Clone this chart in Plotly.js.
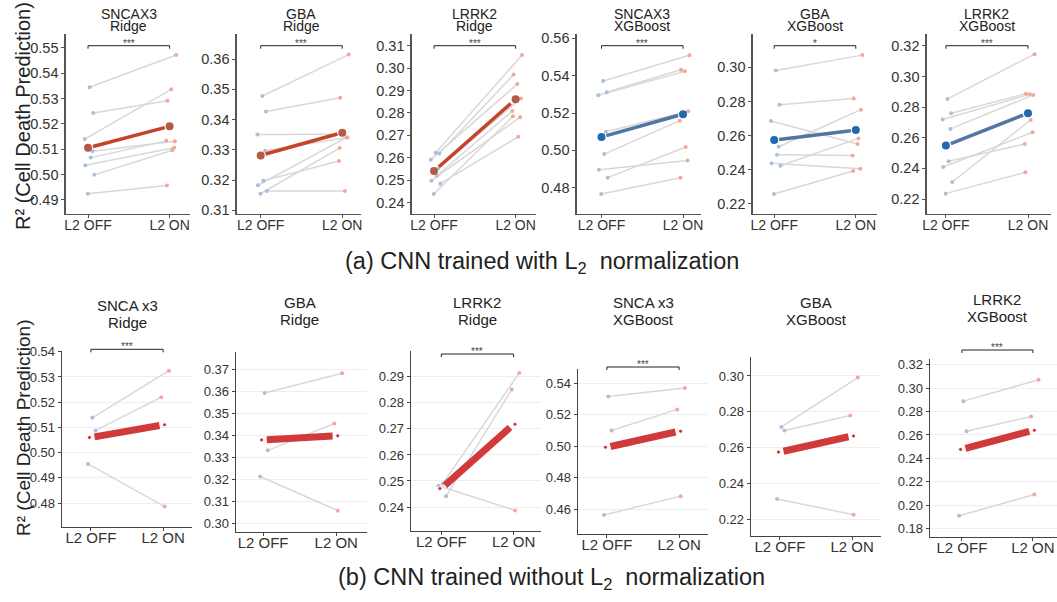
<!DOCTYPE html>
<html><head><meta charset="utf-8">
<script src="https://cdn.plot.ly/plotly-3.0.1.min.js"></script>
<style>html,body{margin:0;padding:0;background:#fff}#chart{width:1057px;height:602px}</style>
</head><body><div id="chart"></div>
<script>
// ---------------- DATA ----------------
const conditions = ["L2 OFF", "L2 ON"];

// (a) CNN trained with L2 normalization (paired runs, L2 OFF -> L2 ON)
const aSncaRidgeOff = [0.5344, 0.5243, 0.5140, 0.5092, 0.5067, 0.5037, 0.4999, 0.4925];
const aSncaRidgeOn  = [0.5471, 0.5291, 0.5336, 0.5131, 0.5133, 0.5106, 0.5096, 0.4957];
const aGbaRidgeOff  = [0.3478, 0.3427, 0.3351, 0.3297, 0.3198, 0.3183, 0.3164, 0.3155];
const aGbaRidgeOn   = [0.3615, 0.3472, 0.3352, 0.3341, 0.3263, 0.3341, 0.3164, 0.3306];
const aLrrkRidgeOff = [0.2623, 0.2619, 0.2592, 0.2553, 0.2520, 0.2498, 0.2485, 0.2439];
const aLrrkRidgeOn  = [0.3058, 0.2971, 0.2929, 0.2865, 0.2809, 0.2781, 0.2694, 0.2785];
const aSncaXgbOff   = [0.5371, 0.5311, 0.5295, 0.5100, 0.4980, 0.4896, 0.4854, 0.4766];
const aSncaXgbOn    = [0.5509, 0.5432, 0.5423, 0.5209, 0.5159, 0.4946, 0.5018, 0.4854];
const aGbaXgbOff    = [0.2982, 0.2781, 0.2685, 0.2534, 0.2487, 0.2437, 0.2423, 0.2257];
const aGbaXgbOn     = [0.3072, 0.2818, 0.2550, 0.2752, 0.2482, 0.2405, 0.2583, 0.2392];
const aLrrkXgbOff   = [0.2854, 0.2760, 0.2719, 0.2658, 0.2446, 0.2409, 0.2311, 0.2235];
const aLrrkXgbOn    = [0.3146, 0.2888, 0.2884, 0.2880, 0.2559, 0.2636, 0.2716, 0.2374];

// (b) CNN trained without L2 normalization
const bSncaRidgeOff = [0.5138, 0.5087, 0.4955];
const bSncaRidgeOn  = [0.5325, 0.5220, 0.4786];
const bGbaRidgeOff  = [0.3594, 0.3333, 0.3214];
const bGbaRidgeOn   = [0.3683, 0.3455, 0.3059];
const bLrrkRidgeOff = [0.2490, 0.2441, 0.2482];
const bLrrkRidgeOn  = [0.2915, 0.2851, 0.2387];
const bSncaXgbOff   = [0.5315, 0.5099, 0.4564];
const bSncaXgbOn    = [0.5368, 0.5233, 0.4683];
const bGbaXgbOff    = [0.2716, 0.2696, 0.2314];
const bGbaXgbOn     = [0.2991, 0.2779, 0.2226];
const bLrrkXgbOff   = [0.2889, 0.2631, 0.1909];
const bLrrkXgbOn    = [0.3071, 0.2757, 0.2091];

const titlesA = [["SNCAX3","Ridge"],["GBA","Ridge"],["LRRK2","Ridge"],["SNCAX3","XGBoost"],["GBA","XGBoost"],["LRRK2","XGBoost"]];
const titlesB = [["SNCA x3","Ridge"],["GBA","Ridge"],["LRRK2","Ridge"],["SNCA x3","XGBoost"],["GBA","XGBoost"],["LRRK2","XGBoost"]];
const sigA = ["***","***","***","***","*","***"];
const sigB = ["***","","***","***","","***"];
const rowLabelA = "(a) CNN trained with L<sub>2</sub>  normalization";
const rowLabelB = "(b) CNN trained without L<sub>2</sub>  normalization";
const yTitle = "R² (Cell Death Prediction)";

// ---------------- LAYOUT CONFIG (positions / styles) ----------------
const W = 1057, H = 602;
const fx = p => Math.min(1, p / W), fy = p => 1 - p / H;
const FONT = "Liberation Sans, Arial, Helvetica, sans-serif";

const panels = [
  {row:'a', off:aSncaRidgeOff, on:aSncaRidgeOn, model:'ridge', px:[66,190],  py:[34,213.7], xr:[-0.27,1.25], yr:[0.4846,0.5554], dt:0.01},
  {row:'a', off:aGbaRidgeOff,  on:aGbaRidgeOn,  model:'ridge', px:[237,361], py:[34,213.7], xr:[-0.29,1.23], yr:[0.3089,0.3683], dt:0.01},
  {row:'a', off:aLrrkRidgeOff, on:aLrrkRidgeOn, model:'ridge', px:[412,536], py:[34,213.7], xr:[-0.27,1.25], yr:[0.2351,0.3152], dt:0.01},
  {row:'a', off:aSncaXgbOff,   on:aSncaXgbOn,   model:'xgb',   px:[577,701], py:[34,213.7], xr:[-0.30,1.22], yr:[0.4661,0.5623], dt:0.02},
  {row:'a', off:aGbaXgbOff,    on:aGbaXgbOn,    model:'xgb',   px:[753,877], py:[34,213.7], xr:[-0.26,1.26], yr:[0.2141,0.3196], dt:0.02},
  {row:'a', off:aLrrkXgbOff,   on:aLrrkXgbOn,   model:'xgb',   px:[927,1051],py:[34,213.7], xr:[-0.23,1.28], yr:[0.2104,0.3278], dt:0.02},
  {row:'b', off:bSncaRidgeOff, on:bSncaRidgeOn, px:[62,192],   py:[351,527], xr:[-0.40,1.40], yr:[0.4705,0.5403], dt:0.01, ty:305, by:349.3},
  {row:'b', off:bGbaRidgeOff,  on:bGbaRidgeOn,  px:[236,367],  py:[352,532], xr:[-0.37,1.42], yr:[0.2962,0.3780], dt:0.01, ty:302},
  {row:'b', off:bLrrkRidgeOff, on:bLrrkRidgeOn, px:[411,541],  py:[351,531], xr:[-0.42,1.38], yr:[0.2308,0.2999], dt:0.01, ty:302, by:354},
  {row:'b', off:bSncaXgbOff,   on:bSncaXgbOn,   px:[578,708],  py:[369,534], xr:[-0.40,1.40], yr:[0.4443,0.5489], dt:0.02, ty:302, by:367},
  {row:'b', off:bGbaXgbOff,    on:bGbaXgbOn,    px:[751,881],  py:[357,536], xr:[-0.40,1.40], yr:[0.2107,0.3106], dt:0.02, ty:302},
  {row:'b', off:bLrrkXgbOff,   on:bLrrkXgbOn,   px:[930,1057], py:[359,537], xr:[-0.45,1.34], yr:[0.1728,0.3249], dt:0.02, ty:299, by:350},
];

const mean = a => a.reduce((s,v)=>s+v,0)/a.length;
const jit = (i, k) => 0.06 * Math.sin(i * 2.3 + k * 1.7) + 0.02;

const traces = [];
const layout = {
  width: W, height: H, margin:{l:0,r:0,t:0,b:0},
  paper_bgcolor:'#fff', plot_bgcolor:'#fff', showlegend:false,
  font:{family:FONT, color:'#333'},
  annotations:[], shapes:[]
};

panels.forEach((p, i) => {
  const k = i + 1, s = k === 1 ? '' : String(k);
  const xref = 'x' + s, yref = 'y' + s;
  const isA = p.row === 'a';
  const axColor = isA ? '#555' : '#444';
  layout['xaxis' + s] = {
    domain:[fx(p.px[0]), fx(p.px[1])], range:p.xr, anchor:yref,
    tickvals:[0,1], ticktext:conditions, showline:true, linecolor:axColor, linewidth:isA?1.6:1.4,
    ticks:'outside', ticklen:3, tickcolor:axColor, showgrid:false, zeroline:false, fixedrange:true,
    ticklabelstandoff: isA ? -5 : -6,
    tickfont:{family:FONT, size:isA?14:15, color:'#333'}
  };
  layout['yaxis' + s] = {
    domain:[fy(p.py[1]), fy(p.py[0])], range:p.yr, anchor:xref,
    tick0:0, dtick:p.dt, tickformat:'.2f', showline:true, linecolor:axColor, linewidth:isA?1.6:1.4,
    ticks:'outside', ticklen:3, tickcolor:axColor, zeroline:false, fixedrange:true,
    showgrid:!isA, gridcolor:'#eeeeee', gridwidth:1,
    tickfont:{family:FONT, size:isA?14.5:13, color:'#333'}
  };

  // paired lines
  const lx = [], ly = [], ox = [], onx = [];
  p.off.forEach((v, j) => {
    const x0 = jit(j, 0), x1 = 1 + jit(j, 1);
    ox.push(x0); onx.push(x1);
    lx.push(x0, x1, null); ly.push(v, p.on[j], null);
  });
  traces.push({type:'scatter', mode:'lines', x:lx, y:ly, xaxis:xref, yaxis:yref,
    line:{color:'#d8d8d8', width:1.5}, hoverinfo:'skip'});
  traces.push({type:'scatter', mode:'markers', x:ox, y:p.off, xaxis:xref, yaxis:yref,
    marker:{color:'#a9bfdc', size:4}, hoverinfo:'skip'});
  traces.push({type:'scatter', mode:'markers', x:onx, y:p.on, xaxis:xref, yaxis:yref,
    marker:{color:'#f0a998', size:4}, hoverinfo:'skip'});

  const m0 = mean(p.off), m1 = mean(p.on);
  if (isA) {
    const ridge = p.model === 'ridge';
    traces.push({type:'scatter', mode:'lines', x:[0.06,0.94], y:[m0 + (m1-m0)*0.06, m0 + (m1-m0)*0.94], xaxis:xref, yaxis:yref,
      line:{color: ridge ? '#c4432a' : '#4f77a2', width:3.5}, hoverinfo:'skip'});
    traces.push({type:'scatter', mode:'markers', x:[0,1], y:[m0,m1], xaxis:xref, yaxis:yref,
      marker:{color: ridge ? '#b65b42' : '#1f6aae', size:8, symbol:'circle'}, hoverinfo:'skip'});
  } else {
    traces.push({type:'scatter', mode:'lines', x:[0.05,0.95], y:[m0 + (m1-m0)*0.05, m0 + (m1-m0)*0.95], xaxis:xref, yaxis:yref,
      line:{color:'#d03a3a', width:7}, hoverinfo:'skip'});
    traces.push({type:'scatter', mode:'markers', x:[-0.02,1.02], y:[m0,m1], xaxis:xref, yaxis:yref,
      marker:{color:'#d62728', size:4, line:{color:'#fff', width:1}}, hoverinfo:'skip'});
  }

  // titles
  const t = isA ? titlesA[i] : titlesB[i - 6];
  const t1y = isA ? 13.5 : p.ty, t2y = isA ? 26.5 : p.ty + 17.5;
  const tsz = isA ? 14 : 15;
  layout.annotations.push({xref:xref, yref:'paper', x:0.5, y:fy(t1y), yanchor:'middle', xanchor:'center',
    text:t[0], showarrow:false, borderpad:0, font:{family:FONT, size:tsz, color:'#222'}});
  layout.annotations.push({xref:xref, yref:'paper', x:0.5, y:fy(t2y), yanchor:'middle', xanchor:'center',
    text:t[1], showarrow:false, borderpad:0, font:{family:FONT, size:tsz, color:'#222'}});

  // significance bracket
  const sig = isA ? sigA[i] : sigB[i - 6];
  if (sig) {
    const by = isA ? 45.7 : p.by;
    const yb = fy(by), yt = fy(by + 3);
    layout.shapes.push({type:'path', xref:xref, yref:'paper',
      path:`M 0,${yt} L 0,${yb} L 1,${yb} L 1,${yt}`, line:{color:'#222', width:1}});
    layout.annotations.push({xref:xref, yref:'paper', x:0.5, y:fy(by - 2.5), yanchor:'middle', xanchor:'center',
      text:sig, showarrow:false, borderpad:0, font:{family:FONT, size:10, color:'#444'}});
  }
});

// row labels & y titles
layout.annotations.push({xref:'paper', yref:'paper', x:fx(542), y:fy(262), xanchor:'center', yanchor:'middle',
  text:rowLabelA, showarrow:false, font:{family:FONT, size:23.5, color:'#222'}});
layout.annotations.push({xref:'paper', yref:'paper', x:fx(551), y:fy(578), xanchor:'center', yanchor:'middle',
  text:rowLabelB, showarrow:false, font:{family:FONT, size:23.5, color:'#222'}});
layout.annotations.push({xref:'paper', yref:'paper', x:fx(23), y:fy(116), xanchor:'center', yanchor:'middle',
  text:yTitle, textangle:-90, showarrow:false, font:{family:FONT, size:20, color:'#222'}});
layout.annotations.push({xref:'paper', yref:'paper', x:fx(23), y:fy(428), xanchor:'center', yanchor:'middle',
  text:yTitle, textangle:-90, showarrow:false, font:{family:FONT, size:19, color:'#222'}});

Plotly.newPlot('chart', traces, layout, {staticPlot:true, displayModeBar:false});
</script></body></html>
